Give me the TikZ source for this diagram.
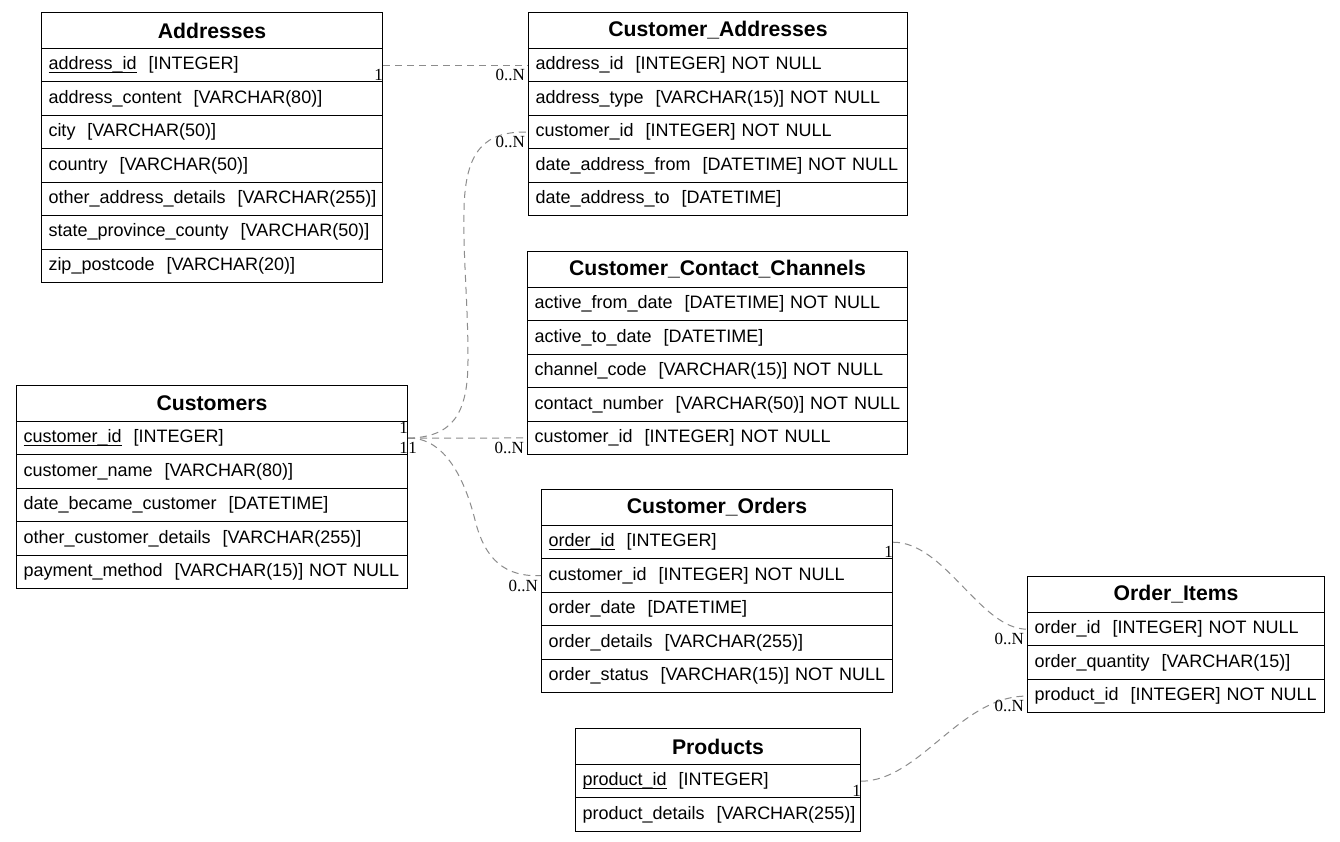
\documentclass[tikz,border=0pt]{standalone}
\usepackage{fontspec}
\newfontfamily\lsans{Liberation Sans}
\newfontfamily\lserif{Liberation Serif}
\definecolor{edgegray}{RGB}{140,140,140}
\newcommand\ulx[1]{\setbox0\hbox{#1}\rlap{\rule[-3.5pt]{\wd0}{1.1pt}}\box0}
\tikzset{
  hdr/.style={draw, line width=1pt, font=\lsans\bfseries\fontsize{21.2}{25}\selectfont,
    minimum height=36pt, inner sep=0pt, anchor=north west},
  rowbox/.style={draw, line width=1pt, font=\lsans\fontsize{18}{21}\selectfont,
    minimum height=33.43pt, inner xsep=7pt, inner ysep=0pt, align=left,
    text height=13pt, text depth=4pt, anchor=north west},
  rel/.style={draw=edgegray, line width=1pt, dash pattern=on 7pt off 5pt},
  lbl/.style={font=\lserif\fontsize{17}{20}\selectfont, inner sep=0pt, anchor=base east}
}
\newcommand\ertable[6]{%
  \node[hdr, minimum width=#4pt] (#1) at (#2,#3) {#5};
  \pgfmathsetmacro\tw{#4-14}
  \foreach \t [count=\i] in {#6} {
    \node[rowbox, text width=\tw pt] (#1-\i) at ({#2},{#3+36+(\i-1)*33.43}) {\mbox{\t}};
  }
}
\begin{document}
\begin{tikzpicture}[x=1pt,y=-1pt]
\fill[white] (0,0) rectangle (1340,842);
\useasboundingbox (0,0) rectangle (1340,842);

\ertable{A}{41}{12}{341}{Addresses}{%
  \ulx{address\_id}\ \ [INTEGER],
  address\_content\ \ [VARCHAR(80)],
  city\ \ [VARCHAR(50)],
  country\ \ [VARCHAR(50)],
  other\_address\_details\ \ [VARCHAR(255)],
  state\_province\_county\ \ [VARCHAR(50)],
  zip\_postcode\ \ [VARCHAR(20)]}

\ertable{CA}{528}{12}{379}{Customer\_Addresses}{%
  address\_id\ \ [INTEGER] NOT NULL,
  address\_type\ \ [VARCHAR(15)] NOT NULL,
  customer\_id\ \ [INTEGER] NOT NULL,
  date\_address\_from\ \ [DATETIME] NOT NULL,
  date\_address\_to\ \ [DATETIME]}

\ertable{CCC}{527}{251}{380}{Customer\_Contact\_Channels}{%
  active\_from\_date\ \ [DATETIME] NOT NULL,
  active\_to\_date\ \ [DATETIME],
  channel\_code\ \ [VARCHAR(15)] NOT NULL,
  contact\_number\ \ [VARCHAR(50)] NOT NULL,
  customer\_id\ \ [INTEGER] NOT NULL}

\ertable{C}{16}{385}{391}{Customers}{%
  \ulx{customer\_id}\ \ [INTEGER],
  customer\_name\ \ [VARCHAR(80)],
  date\_became\_customer\ \ [DATETIME],
  other\_customer\_details\ \ [VARCHAR(255)],
  payment\_method\ \ [VARCHAR(15)] NOT NULL}

\ertable{CO}{541}{489}{351}{Customer\_Orders}{%
  \ulx{order\_id}\ \ [INTEGER],
  customer\_id\ \ [INTEGER] NOT NULL,
  order\_date\ \ [DATETIME],
  order\_details\ \ [VARCHAR(255)],
  order\_status\ \ [VARCHAR(15)] NOT NULL}

\ertable{OI}{1027}{576}{297}{Order\_Items}{%
  order\_id\ \ [INTEGER] NOT NULL,
  order\_quantity\ \ [VARCHAR(15)],
  product\_id\ \ [INTEGER] NOT NULL}

\ertable{P}{575}{728}{285}{Products}{%
  \ulx{product\_id}\ \ [INTEGER],
  product\_details\ \ [VARCHAR(255)]}

% relations
\draw[rel] (A-1.east) -- (CA-1.west);
\node[lbl] (la1) at ([yshift=-15.5pt]A-1.east) {1};
\node[lbl] (la2) at ([xshift=-3pt,yshift=-15.5pt]CA-1.west) {0..N};

\draw[rel] (C-1.east) .. controls (452,437) and (468,415) .. (468,360)
  .. controls (468,300) and (463,260) .. (464,210)
  .. controls (465,150) and (485,131) .. (CA-3.west);
\node[lbl] (lb1) at ([yshift=5pt]C-1.east) {1};
\node[lbl] (lb2) at ([xshift=-3pt,yshift=-15.5pt]CA-3.west) {0..N};

\draw[rel] (C-1.east) -- (CCC-5.west);
\node[lbl] (lc1) at ([yshift=-15.5pt]C-1.east) {1};
\node[lbl] (lc2) at ([xshift=-3pt,yshift=-15.5pt]CCC-5.west) {0..N};

\draw[rel] (C-1.east) .. controls (445,437) and (465,480) .. (475,520)
  .. controls (485,560) and (505,577) .. (CO-2.west);
\node[lbl] (ld1) at ([xshift=9pt,yshift=-15.5pt]C-1.east) {1};
\node[lbl] (ld2) at ([xshift=-3pt,yshift=-15.5pt]CO-2.west) {0..N};

\draw[rel] (CO-1.east) .. controls (945,542) and (980,629) .. (OI-1.west);
\node[lbl] (le1) at ([yshift=-15.5pt]CO-1.east) {1};
\node[lbl] (le2) at ([xshift=-3pt,yshift=-15.5pt]OI-1.west) {0..N};

\draw[rel] (P-1.east) .. controls (920,781) and (960,696) .. (OI-3.west);
\node[lbl] (lf1) at ([yshift=-15.5pt]P-1.east) {1};
\node[lbl] (lf2) at ([xshift=-3pt,yshift=-15.5pt]OI-3.west) {0..N};
\end{tikzpicture}
\end{document}
